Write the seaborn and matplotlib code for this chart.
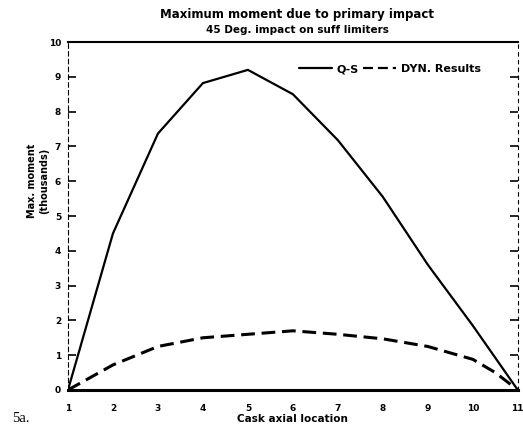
import matplotlib
matplotlib.use('Agg')
import matplotlib.pyplot as plt
import pandas as pd
import seaborn as sns

# values
qs_loc = [1, 2, 3, 4, 5, 6, 7, 8, 9, 10, 11]
qs_moment = [0, 4.5, 7.37, 8.82, 9.2, 8.5, 7.18, 5.55, 3.6, 1.85, 0]
dyn_loc = [1, 2, 3, 4, 5, 6, 7, 8, 9, 10, 10.5, 11]
dyn_moment = [0, 0.72, 1.25, 1.5, 1.6, 1.7, 1.6, 1.47, 1.25, 0.88, 0.5, 0]
x_ticks = [1, 2, 3, 4, 5, 6, 7, 8, 9, 10, 11]
y_ticks = [0, 1, 2, 3, 4, 5, 6, 7, 8, 9, 10]

df = pd.concat([
    pd.DataFrame({'loc': qs_loc, 'moment': qs_moment, 'series': 'Q-S'}),
    pd.DataFrame({'loc': dyn_loc, 'moment': dyn_moment, 'series': 'DYN. Results'}),
])

sns.set_style('white', {'text.color': 'black', 'axes.labelcolor': 'black',
                        'xtick.color': 'black', 'ytick.color': 'black',
                        'axes.edgecolor': 'black'})
plt.rcParams['font.family'] = ['DejaVu Sans']

fig = plt.figure(figsize=(5.23, 4.29), dpi=100)
ax = fig.add_axes([0.130, 0.091, 0.860, 0.811])

sns.lineplot(data=df, x='loc', y='moment', style='series', color='black',
             dashes={'Q-S': '', 'DYN. Results': (4.5, 2.2)},
             style_order=['Q-S', 'DYN. Results'], ax=ax, linewidth=1.6)
ax.lines[1].set_linewidth(2.2)

ax.set_xlim(1, 11)
ax.set_ylim(0, 10)
ax.set_xticks(x_ticks)
ax.set_yticks(y_ticks)
ax.set_xticklabels([str(t) for t in x_ticks], fontsize=6.5, fontweight='bold')
ax.set_yticklabels([str(t) for t in y_ticks], fontsize=6.5, fontweight='bold')
ax.tick_params(axis='y', direction='in', length=6, width=1.2, left=True, right=True, pad=5)
ax.tick_params(axis='x', length=0, pad=10)

ax.spines['bottom'].set_linewidth(2.2)
ax.spines['top'].set_linewidth(1.5)
ax.spines['left'].set_linewidth(0.8)
ax.spines['left'].set_linestyle((0, (4, 3)))
ax.spines['right'].set_linewidth(0.8)
ax.spines['right'].set_linestyle((0, (3, 4)))

ax.set_xlabel('Cask axial location', fontsize=7.5, fontweight='bold', labelpad=1)
ax.set_ylabel('Max. moment\n(thousands)', fontsize=7, fontweight='bold')
ax.yaxis.set_label_coords(-0.043, 0.6)

leg = ax.legend(loc='upper right', ncol=2, frameon=False, fontsize=8,
                handlelength=3.0, columnspacing=0.4, handletextpad=0.4,
                bbox_to_anchor=(0.94, 0.965))
for t in leg.get_texts():
    t.set_fontweight('bold')

fig.text(0.568, 0.967, 'Maximum moment due to primary impact', ha='center', va='center',
         fontsize=8.5, fontweight='bold')
fig.text(0.568, 0.93, '45 Deg. impact on suff limiters', ha='center', va='center',
         fontsize=7.5, fontweight='bold')
fig.text(0.04, 0.025, '5a.', ha='center', va='center', fontsize=10.5,
         family=['Liberation Serif', 'DejaVu Serif'])

fig.savefig('out.png', dpi=100)
